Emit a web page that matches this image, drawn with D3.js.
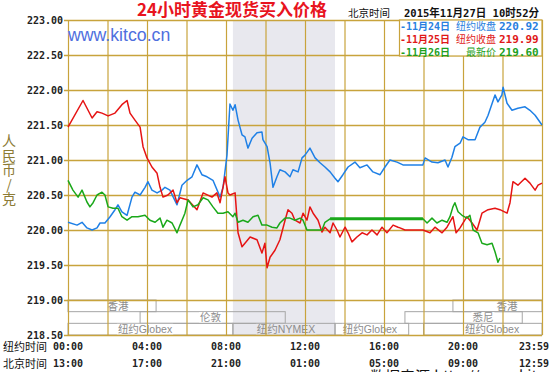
<!DOCTYPE html>
<html>
<head>
<meta charset="utf-8">
<script src="https://cdnjs.cloudflare.com/ajax/libs/d3/7.8.5/d3.min.js"></script>
<style>
  body { margin: 0; background: #fff; }
  svg { display: block; }
</style>
</head>
<body>
<svg width="552" height="372"></svg>
<script>
// prices, [New York hour, RMB per gram]
let nov24 = [[0,220.11],[0.46,220.07],[0.71,220.11],[0.96,220.03],[1.22,220.0],[1.47,220.03],[1.62,220.1],[1.87,220.1],[2.13,220.19],[2.38,220.29],[2.53,220.36],[2.73,220.26],[2.99,220.21],[3.24,220.47],[3.39,220.54],[3.65,220.5],[3.9,220.61],[4.05,220.69],[4.25,220.57],[4.51,220.53],[4.76,220.57],[4.91,220.61],[5.16,220.57],[5.52,220.36],[5.77,220.64],[6.03,220.71],[6.28,220.76],[6.53,220.93],[6.78,220.79],[7.04,220.76],[7.34,220.71],[7.7,220.47],[7.85,220.61],[8.05,221.07],[8.2,221.8],[8.35,221.71],[8.46,221.79],[8.61,221.57],[8.81,221.36],[8.96,221.33],[9.11,221.17],[9.32,221.31],[9.57,221.39],[9.82,221.4],[9.87,221.29],[10.08,221.19],[10.23,220.96],[10.38,220.61],[10.58,220.76],[10.73,220.86],[10.99,220.83],[11.24,220.76],[11.39,220.86],[11.65,220.83],[11.85,221.03],[12.0,221.07],[12.25,221.17],[12.51,221.03],[12.76,220.96],[13.01,220.9],[13.27,220.83],[13.52,220.74],[13.67,220.69],[13.92,220.79],[14.18,220.9],[14.53,220.97],[14.78,220.89],[15.14,220.93],[15.44,220.83],[15.8,220.79],[16.05,220.9],[16.3,221.0],[16.66,220.97],[16.96,220.93],[17.97,220.93],[18.08,221.03],[18.43,220.97],[18.73,220.96],[19.09,221.0],[19.24,220.9],[19.44,221.04],[19.59,221.19],[19.85,221.24],[20.0,221.33],[20.25,221.29],[20.61,221.29],[20.86,221.47],[21.11,221.54],[21.27,221.64],[21.62,221.93],[21.77,221.83],[21.97,221.93],[22.03,222.04],[22.23,221.81],[22.48,221.71],[22.78,221.74],[23.14,221.76],[23.39,221.71],[23.65,221.64],[24,221.5]];

let nov25 = [[0,221.47],[0.76,221.85],[1.22,221.6],[1.47,221.69],[1.72,221.67],[2.03,221.63],[2.38,221.67],[2.73,221.79],[2.99,221.85],[3.14,221.67],[3.39,221.57],[3.65,221.47],[3.8,221.19],[4.0,221.03],[4.25,220.9],[4.51,220.81],[4.66,220.61],[4.81,220.47],[5.06,220.5],[5.32,220.57],[5.52,220.39],[5.67,220.46],[6.08,220.43],[6.53,220.29],[6.84,220.53],[7.29,220.47],[7.54,220.53],[7.7,220.39],[7.95,220.76],[8.1,220.53],[8.2,220.5],[8.46,220.53],[8.61,219.96],[8.81,219.76],[8.96,219.81],[9.22,219.9],[9.57,219.86],[9.82,219.67],[9.97,219.81],[10.08,219.46],[10.23,219.61],[10.48,219.71],[10.73,219.86],[10.99,220.14],[11.14,220.29],[11.34,220.24],[11.49,220.14],[11.75,220.1],[11.9,220.24],[12.1,220.14],[12.25,220.33],[12.41,220.24],[12.66,220.14],[12.86,219.97],[13.01,220.04],[13.27,219.96],[13.42,220.1],[13.62,220.0],[13.77,219.9],[14.03,220.04],[14.18,219.96],[14.38,219.83],[14.63,219.9],[14.89,219.96],[15.14,219.93],[15.39,220.0],[15.65,219.93],[15.9,220.04],[16.15,219.96],[16.46,220.07],[16.71,220.04],[16.81,220.03],[17.06,220.0],[17.97,220.0],[18.33,219.96],[18.58,220.04],[18.94,219.96],[19.19,220.04],[19.49,220.19],[19.65,219.96],[19.85,220.03],[20.2,220.19],[20.46,220.1],[20.71,220.0],[20.96,220.24],[21.27,220.29],[21.62,220.31],[21.87,220.29],[22.23,220.24],[22.38,220.39],[22.53,220.69],[22.78,220.64],[23.14,220.74],[23.39,220.67],[23.65,220.57],[23.8,220.64],[24,220.67]];

let nov26 = [[0,220.71],[0.25,220.57],[0.51,220.47],[0.71,220.57],[0.96,220.4],[1.11,220.33],[1.27,220.39],[1.47,220.5],[1.72,220.54],[1.87,220.5],[2.03,220.33],[2.28,220.31],[2.53,220.31],[2.73,220.19],[2.99,220.14],[3.24,220.19],[3.54,220.19],[3.9,220.21],[4.15,220.14],[4.41,220.11],[4.66,220.17],[4.81,220.04],[5.01,220.14],[5.27,220.1],[5.52,219.96],[5.67,220.07],[5.92,220.24],[6.08,220.43],[6.33,220.33],[6.58,220.36],[6.84,220.46],[7.09,220.43],[7.34,220.33],[7.59,220.24],[7.85,220.24],[8.1,220.26],[8.35,220.19],[8.46,220.24],[8.61,220.11],[8.86,220.14],[9.11,220.11],[9.37,220.19],[9.62,220.21],[9.82,220.07],[10.08,220.07],[10.33,220.04],[10.58,220.03],[10.73,220.1],[10.99,220.17],[11.24,220.17],[11.49,220.14],[11.75,220.17],[11.9,220.14],[12.1,220.0],[12.35,220.0],[12.61,220.0],[12.86,220.0],[13.01,220.11],[13.27,220.16],[17.97,220.16],[18.18,220.1],[18.43,220.17],[18.68,220.1],[18.94,220.14],[19.19,220.11],[19.34,220.19],[19.49,220.33],[19.59,220.39],[19.75,220.26],[19.95,220.21],[20.2,220.17],[20.35,220.21],[20.51,220.0],[20.76,219.96],[20.96,219.81],[21.22,219.79],[21.47,219.81],[21.62,219.69],[21.77,219.54],[21.87,219.6]];

// market closed stretch of the latest day (drawn heavier)
let nov26Closed = [13.27, 17.97];

let yTicks = [218.5, 219, 219.5, 220, 220.5, 221, 221.5, 222, 222.5, 223];
let gridHours = [0, 2, 4, 6, 8, 10, 12, 14, 16, 18, 20, 22, 24];
let labelHours = [0, 4, 8, 12, 16, 20, 24];
let nyLabels = ["00:00", "04:00", "08:00", "12:00", "16:00", "20:00", "23:59"];
let bjLabels = ["13:00", "17:00", "21:00", "01:00", "05:00", "09:00", "12:59"];

let nymexHours = [8.35, 13.52];

// [row, open, close, name, label position] in New York hours
let sessions = [
    [0, 0, 4.46, "香港", 2.53],
    [0, 19.49, 24, "香港", 22.23],
    [1, 3.65, 11.0, "伦敦", 7.22],
    [1, 17.06, 23.0, "悉尼", 21.01],
    [2, 0, 8.35, "纽约Globex", 3.9],
    [2, 8.35, 13.52, "纽约NYMEX", 11.04],
    [2, 13.52, 17.25, "纽约Globex", 15.29],
    [2, 18.0, 24, "纽约Globex", 21.47]
];

let legendDates = ["-11月24日", "-11月25日", "-11月26日"];
let legendNames = ["纽约收盘", "纽约收盘", "最新价"];
let legendValues = [220.92, 219.99, 219.60];
let seriesColors = ["#1f80e6", "#e61414", "#1aa81a"];
let legendColors = ["#2a7fe0", "#e01818", "#1f9f1f"];

let svg = d3.select("svg");
let gold = "#c8a33c";
let mono = "'DejaVu Sans Mono', 'Noto Sans CJK SC', monospace";
let cjk = "'Noto Sans CJK SC', sans-serif";

let margin = { top: 20, left: 68 },
    width = 474,
    height = 315;

let x = d3.scaleLinear().domain([0, 24]).range([margin.left, margin.left + width]);
let y = d3.scaleLinear().domain([218.5, 223]).range([margin.top + height, margin.top]);

// NYMEX pit hours
svg.append("rect")
    .attr("x", x(nymexHours[0]))
    .attr("y", y(223))
    .attr("width", x(nymexHours[1]) - x(nymexHours[0]))
    .attr("height", y(218.5) - y(223))
    .attr("fill", "#e8e8ee");

// market session boxes under 219.00
let rowH = (y(218.5) - y(219)) / 3;
let sess = svg.append("g");
sessions.forEach(s => {
    let top = y(219) + s[0] * rowH;
    let x0 = x(s[1]), x1 = x(s[2]);
    sess.append("rect")
        .attr("x", x0)
        .attr("y", top)
        .attr("width", x1 - x0)
        .attr("height", rowH)
        .attr("fill", "none")
        .attr("stroke", "#a6a6a6")
        .attr("stroke-width", 1);
    let inBand = s[4] > nymexHours[0] && s[4] < nymexHours[1];
    let bg = sess.append("rect").attr("fill", inBand ? "#e8e8ee" : "#fff");
    let t = sess.append("text")
        .attr("x", x(s[4]))
        .attr("y", top + rowH - 2)
        .attr("text-anchor", "middle")
        .style("font-family", "'Liberation Sans', " + cjk)
        .style("font-size", "10.5px")
        .attr("fill", "#8c8c8c")
        .text(s[3]);
    let w = t.node().getComputedTextLength();
    bg.attr("x", x(s[4]) - w / 2 - 1)
        .attr("y", top + 0.5)
        .attr("width", w + 2)
        .attr("height", rowH - 1);
});

// gold grid + y tick labels
let yAxis = svg.append("g")
    .attr("transform", "translate(" + (margin.left - 4) + ",0)")
    .call(d3.axisLeft(y)
        .tickValues(yTicks)
        .tickFormat(d3.format(".2f"))
        .tickSize(-(width + 4))
        .tickPadding(1));
yAxis.select(".domain").remove();
yAxis.selectAll("line").attr("stroke", gold).attr("stroke-width", 1.5);
yAxis.selectAll("text")
    .style("font-family", mono)
    .style("font-weight", "bold")
    .style("font-size", "10px")
    .attr("fill", "#222");

let xGrid = svg.append("g")
    .attr("transform", "translate(0," + y(218.5) + ")")
    .call(d3.axisBottom(x).tickValues(gridHours).tickFormat("").tickSize(-height));
xGrid.select(".domain").remove();
xGrid.selectAll("line").attr("stroke", gold).attr("stroke-width", 1.2);

// price lines
let line = d3.line().x(d => x(d[0])).y(d => y(d[1]));
[nov24, nov25, nov26].forEach((data, i) => {
    svg.append("path")
        .datum(data)
        .attr("d", line)
        .attr("fill", "none")
        .attr("stroke", seriesColors[i])
        .attr("stroke-width", 1.5)
        .attr("stroke-linejoin", "round");
});
svg.append("path")
    .datum(nov26.filter(d => d[0] >= nov26Closed[0] && d[0] <= nov26Closed[1]))
    .attr("d", line)
    .attr("fill", "none")
    .attr("stroke", seriesColors[2])
    .attr("stroke-width", 3);

// watermark
svg.append("text")
    .attr("x", 68)
    .attr("y", 41)
    .style("font-family", "'Liberation Sans', Arial, sans-serif")
    .style("font-size", "17.7px")
    .attr("fill", "#4f6fde")
    .text("www.kitco.cn");

// legend box
svg.append("rect")
    .attr("x", 399.5)
    .attr("y", 20)
    .attr("width", x(24) - 399.5)
    .attr("height", 36)
    .attr("fill", "#fff")
    .attr("stroke", gold)
    .attr("stroke-width", 1.2);

legendDates.forEach((d, i) => {
    let by = 29.5 + i * 13;
    svg.append("text")
        .attr("x", 400)
        .attr("y", by)
        .style("font-family", mono)
        .style("font-weight", "bold")
        .style("font-size", "10px")
        .attr("fill", legendColors[i])
        .text(d);
    svg.append("text")
        .attr("x", 496)
        .attr("y", by)
        .attr("text-anchor", "end")
        .style("font-family", cjk)
        .style("font-size", "10px")
        .attr("fill", legendColors[i])
        .text(legendNames[i]);
    svg.append("text")
        .attr("x", 499)
        .attr("y", by)
        .style("font-family", mono)
        .style("font-weight", "bold")
        .style("font-size", "11px")
        .attr("fill", legendColors[i])
        .text(d3.format(".2f")(legendValues[i]));
});

// header
svg.append("text")
    .attr("x", 137)
    .attr("y", 16)
    .style("font-family", cjk)
    .style("font-weight", "bold")
    .style("font-size", "17px")
    .attr("fill", "#e8141e")
    .text("24小时黄金现货买入价格");

svg.append("text")
    .attr("x", 348)
    .attr("y", 17)
    .style("font-family", cjk)
    .style("font-size", "10.5px")
    .attr("fill", "#111")
    .text("北京时间");

svg.append("text")
    .attr("x", 404)
    .attr("y", 17)
    .attr("textLength", 135)
    .attr("lengthAdjust", "spacingAndGlyphs")
    .style("font-family", mono)
    .style("font-weight", "bold")
    .style("font-size", "11px")
    .attr("fill", "#111")
    .text("2015年11月27日 10时52分");

// y title, one glyph per row
let yTitle = ["人", "民", "币", "/", "克"];
svg.append("g").selectAll("text")
    .data(yTitle)
    .join("text")
    .attr("x", 9)
    .attr("y", (d, i) => 140 + i * 14.5)
    .attr("text-anchor", "middle")
    .attr("dominant-baseline", "central")
    .style("font-family", cjk)
    .style("font-size", "14px")
    .attr("fill", "#8c7b35")
    .text(d => d);

// time rows
[["纽约时间", nyLabels, 350], ["北京时间", bjLabels, 367]].forEach(r => {
    svg.append("text")
        .attr("x", 3)
        .attr("y", r[2] + 1)
        .style("font-family", cjk)
        .style("font-size", "11px")
        .attr("fill", "#111")
        .text(r[0]);
    svg.append("g").selectAll("text")
        .data(r[1])
        .join("text")
        .attr("x", (d, i) => i == r[1].length - 1 ? 549 : x(labelHours[i]))
        .attr("y", r[2])
        .attr("text-anchor", (d, i) => i == r[1].length - 1 ? "end" : "middle")
        .style("font-family", mono)
        .style("font-weight", "bold")
        .style("font-size", "10px")
        .attr("fill", "#222")
        .text(d => d);
});

// source line, cut off by the bottom edge
svg.append("text")
    .attr("x", 370)
    .attr("y", 382)
    .style("font-family", cjk)
    .style("font-size", "15px")
    .attr("fill", "#111")
    .text("数据来源:http://www.kitco.cn");
</script>
</body>
</html>
